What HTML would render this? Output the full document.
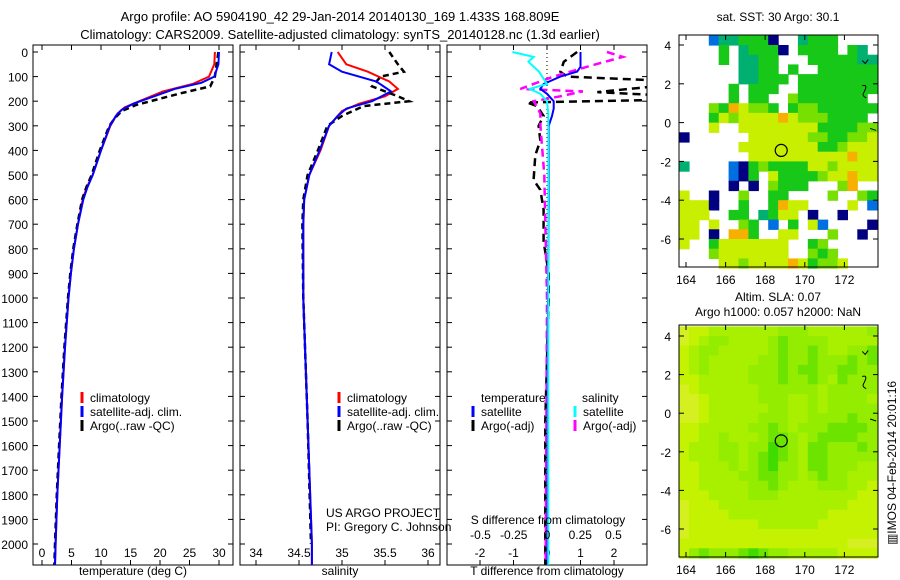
<!DOCTYPE html>
<html><head><meta charset="utf-8"><style>
body{margin:0;background:#fff;}
svg{display:block;font-family:"Liberation Sans",sans-serif;}
text{fill:#000;}
</style></head><body>
<svg id="c" width="900" height="580" viewBox="0 0 900 580"></svg>
<script>
// ---------- DATA ----------
const depthTicks=[0,100,200,300,400,500,600,700,800,900,1000,1100,1200,1300,1400,1500,1600,1700,1800,1900,2000];
const tTicks=[0,5,10,15,20,25,30];
const sTicks=[34,34.5,35,35.5,36];
const sTickLabels=["34","34.5","35","35.5","36"];
const tdTicks=[-2,-1,0,1,2];
const sdTicks=[-0.5,-0.25,0,0.25,0.5];
const sdTickLabels=["-0.5","-0.25","0","0.25","0.5"];
const lonTicks=[164,166,168,170,172];
const latTicks=[4,2,0,-2,-4,-6];
// temperature profiles [depth, value]
const tClim=[[0,29.3],[50,29.2],[100,28.3],[130,25.5],[160,20.5],[200,16.5],[225,14],[250,12.8],[300,11.6],[400,10],[500,8.6],[550,7.6],[600,6.9],[700,6.1],[800,5.4],[900,4.9],[1000,4.5],[1200,3.9],[1400,3.4],[1600,3.0],[1800,2.6],[2000,2.3],[2085,2.2]];
const tSat=[[0,30],[50,29.9],[100,29.2],[125,27],[150,22.5],[180,19],[210,15.5],[235,13.5],[260,12.5],[300,11.5],[400,10],[500,8.6],[550,7.7],[600,7],[700,6.1],[800,5.4],[900,4.9],[1000,4.5],[1200,3.9],[1400,3.4],[1600,3.0],[1800,2.6],[2000,2.3],[2085,2.2]];
const tArgo=[[0,29.9],[50,29.6],[100,29.3],[140,28.5],[165,24],[190,20],[215,16],[240,13.5],[270,12.3],[300,11.4],[400,9.8],[500,8.4],[550,7.5],[600,6.8],[700,6.0],[800,5.3],[900,4.8],[1000,4.4],[1200,3.8],[1400,3.3],[1600,2.9],[1800,2.5],[2000,2.2],[2085,2.1]];
// salinity profiles
const sClim=[[0,34.95],[50,35.05],[80,35.3],[120,35.55],[150,35.65],[180,35.5],[210,35.2],[240,35.0],[300,34.85],[400,34.75],[500,34.62],[600,34.56],[700,34.55],[1000,34.55],[1500,34.6],[2000,34.65],[2085,34.65]];
const sSat=[[0,34.88],[50,34.85],[80,35.0],[120,35.4],[160,35.57],[200,35.35],[230,35.05],[260,34.95],[300,34.85],[400,34.74],[500,34.62],[600,34.56],[700,34.55],[1000,34.55],[1500,34.6],[2000,34.65],[2085,34.65]];
const sArgo=[[0,35.55],[50,35.65],[80,35.72],[100,35.45],[140,35.35],[180,35.65],[200,35.78],[220,35.25],[260,35.0],[300,34.83],[400,34.72],[500,34.6],[600,34.55],[700,34.54],[1000,34.55],[1500,34.6],[2000,34.64]];
// difference profiles
const tdSat=[[0,1.0],[60,1.0],[80,0.9],[100,0.4],[130,-0.1],[150,-0.2],[170,0.0],[200,0.2],[230,0.2],[260,0.15],[300,0.05],[600,0.05],[1000,0.03],[2085,0.02]];
const tdArgo=[[0,0.9],[40,0.5],[80,0.4],[100,0.6],[115,3.2],[140,3.2],[163,1.5],[175,3.2],[195,3.2],[205,-0.6],[220,-0.3],[260,-0.1],[300,-0.25],[360,-0.2],[420,-0.35],[520,-0.4],[560,-0.2],[640,-0.1],[770,-0.1],[900,0.05],[1000,0.05],[1500,-0.05],[2000,-0.05],[2085,-0.05]];
const sdSat=[[0,-0.26],[20,-0.1],[40,-0.14],[80,-0.06],[130,0],[150,-0.13],[170,-0.05],[200,0],[250,0.01],[1000,0.01],[2085,0.01]];
const sdArgo=[[0,0.45],[20,0.57],[60,0.3],[100,0.05],[150,-0.2],[160,0.27],[180,0.1],[200,-0.1],[250,-0.05],[300,-0.05],[500,-0.02],[1000,0],[2085,-0.01]];
// maps: 0.5 degree cells, rows from lat 4.5 downward, cols from lon 163.65
const sstGrid=["   bttgggn  tggg    ","    g tgggn gggg gt ","    g ttgg   gggggtt","      ttgg g  gggggg","      ttggg gggggggg","     g ggg  gggggggg","     g gg  lggggggg ","   lgoyllg gllgggggg","   gylyyyyoylllgggg ","   y  yyyyyyyyggggll","n      yyyyyyllgglly","      yyyyyyyygglyyy","       yyyyyyyyyyoyy","t    bnglggggyylyyyy","     bng ygggglyyoyy","     n n lggg   lo  ","y  n  l  gg    l  lg","yyyn  g  goyy    y b","yyy  gg tgyy n  n   ","yy y  lg b g yb    n","yy n oog  yy   l  n ","y  gyyyyyyy  gl     ","   lyyyyyyy  lgl    ","    yylyyyyoyglly   "];
const slaGrid=["Yyylllllllmmmllllllm","Yylmmllllmgmmmmlllll","ylmmlllllmgmmgmllmmg","ylmlllllmmgmmgmmmgmg","ylmllllmmmgmggmmggmm","yylllllmmmgmmgmlgmmm","Yyllllllmmmmmmlmmmmm","YYylllllmmmllmlmmmml","YYyllllllmmllmlmmmmm","YYylllllmmmllmmmmgmm","yylllllmmgmlmmmggggm","yyllmlllmggmlmggggmm","ylllmmlmmGgmlggmmmgm","ylllmmlmgGgmlggmmmmm","yylllmlmgGmmlggmmmll","yyllllmmggmmlmgmmlll","yylllllmmgmlllmmmlly","yyyllllmmmllllllllyy","Yyyylllllllllllllyyy","Yyyyyllllllllllyyyyy","Yyyyyyyyllllllyyyyyy","Yyyyyyyyyyyyyyyyyyyy","yyyyyyyyyyyyyyyyyYYY","ymgmmmgGgmmlllllyyyy"];
const argoLon=168.809, argoLat=-1.433;

// ---------- HELPERS ----------
const NS="http://www.w3.org/2000/svg";
const svg=document.getElementById('c');
function el(tag,attrs,parent){const e=document.createElementNS(NS,tag);for(const k in attrs)e.setAttribute(k,attrs[k]);(parent||svg).appendChild(e);return e;}
function txt(x,y,s,anchor,size,parent){const t=el('text',{x:x,y:y,'text-anchor':anchor||'middle','font-size':size||12},parent);t.textContent=s;return t;}
const yD=d=>52+0.246*d;
const P1={l:33,r:233,t:45,b:565}, P2={l:240,r:440,t:45,b:565}, P3={l:447,r:647,t:45,b:565};
const xT=v=>42+v*5.9, xS=v=>256+(v-34)*86, xTd=v=>547+v*33.5, xSd=v=>547+v*133;

function frame(P,name){
  el('rect',{x:P.l,y:P.t,width:P.r-P.l,height:P.b-P.t,fill:'#fff',stroke:'#000','stroke-width':1});
}
function yAxisTicks(P,g){depthTicks.forEach(d=>{const y=yD(d);el('line',{x1:P.l,x2:P.l+5,y1:y,y2:y,stroke:'#000'},g);el('line',{x1:P.r,x2:P.r-5,y1:y,y2:y,stroke:'#000'},g);});}
function xTicks(P,vals,f,g,labels,ly){vals.forEach((v,i)=>{const x=f(v);el('line',{x1:x,x2:x,y1:P.b,y2:P.b-5,stroke:'#000'},g);el('line',{x1:x,x2:x,y1:P.t,y2:P.t+5,stroke:'#000'},g);if(labels)txt(x,ly,labels[i],'middle',12,g);});}
function line(data,fx,color,dash,width,name,clip){
  const pts=data.map(p=>fx(p[1]).toFixed(1)+','+yD(p[0]).toFixed(1)).join(' ');
  const a={points:pts,fill:'none',stroke:color,'stroke-width':width||2};
  if(dash)a['stroke-dasharray']=dash;
  if(clip)a['clip-path']='url(#'+clip+')';
  const p=el('polyline',a);
  
  
  return p;
}
function legendItem(x,y,color,label,name){
  const g=el('g',{});
  
  
  el('line',{x1:x,x2:x,y1:y-10,y2:y+1,stroke:color,'stroke-width':3},g);
  txt(x+8,y,label,'start',12,g);
}

// ---------- TITLES ----------
txt(340,21,"Argo profile: AO 5904190_42 29-Jan-2014 20140130_169 1.433S 168.809E",'middle',13);
txt(340,39,"Climatology: CARS2009. Satellite-adjusted climatology: synTS_20140128.nc (1.3d earlier)",'middle',13);

const defs=el('defs',{});
[['clip3',P3]].forEach(([id,P])=>{const c=el('clipPath',{id:id},defs);el('rect',{x:P.l,y:P.t,width:P.r-P.l,height:P.b-P.t},c);});

// ---------- PANEL 1 ----------
frame(P1,'temperature-panel');
const g1=el('g',{});
yAxisTicks(P1,g1);
depthTicks.forEach(d=>txt(28,yD(d)+5,String(d),'end',12,g1));
xTicks(P1,tTicks,xT,g1,tTicks.map(String),557);
txt(133,575,"temperature (deg C)",'middle',12);
line(tClim,xT,'#ff0000',null,2,'temp-climatology-line');
line(tArgo,xT,'#000',"6,4",2.5,'temp-argo-line');
line(tSat,xT,'#0000ff',null,2,'temp-satellite-line');
legendItem(82,402,'#ff0000','climatology','legend-climatology-1');
legendItem(82,416,'#0000ff','satellite-adj. clim.','legend-satellite-1');
legendItem(82,430,'#000','Argo(..raw -QC)','legend-argo-1');

// ---------- PANEL 2 ----------
frame(P2,'salinity-panel');
const g2=el('g',{});
yAxisTicks(P2,g2);
xTicks(P2,sTicks,xS,g2,sTickLabels,557);
txt(340,575,"salinity",'middle',12);
line(sClim,xS,'#ff0000',null,2,'sal-climatology-line');
line(sArgo,xS,'#000',"6,4",2.5,'sal-argo-line');
line(sSat,xS,'#0000ff',null,2,'sal-satellite-line');
legendItem(339,402,'#ff0000','climatology','legend-climatology-2');
legendItem(339,416,'#0000ff','satellite-adj. clim.','legend-satellite-2');
legendItem(339,430,'#000','Argo(..raw -QC)','legend-argo-2');

// ---------- PANEL 3 ----------
frame(P3,'difference-panel');
const g3=el('g',{});
yAxisTicks(P3,g3);
xTicks(P3,tdTicks,xTd,g3,tdTicks.map(String),557);
el('line',{x1:xTd(0),x2:xTd(0),y1:P3.t,y2:P3.b,stroke:'#000','stroke-dasharray':'1,3'},g3);
line(tdArgo,xTd,'#000',"8,5",2.5,'tdiff-argo-line','clip3');
line(sdArgo,xSd,'#ff00ff',"8,5",2.5,'sdiff-argo-line','clip3');
line(tdSat,xTd,'#0000ff',null,2,'tdiff-satellite-line','clip3');
line(sdSat,xSd,'#00ffff',null,2,'sdiff-satellite-line','clip3');
txt(481,402,"temperature",'start',12);
txt(582,402,"salinity",'start',12);
legendItem(473,416,'#0000ff','satellite','legend-tsat');
legendItem(473,430,'#000','Argo(-adj)','legend-targo');
legendItem(575,416,'#00ffff','satellite','legend-ssat');
legendItem(575,430,'#ff00ff','Argo(-adj)','legend-sargo');
const gs=el('g',{});
txt(548,524,"S difference from climatology",'middle',12,gs);
sdTicks.forEach((v,i)=>txt(xSd(v),539,sdTickLabels[i],'middle',12,gs));
txt(547,575,"T difference from climatology",'middle',12);
const pi=el('g',{});
txt(326,517,"US ARGO PROJECT",'start',12,pi);
txt(326,531,"PI: Gregory C. Johnson",'start',12,pi);

// ---------- MAPS ----------
const sstColors={g:'#18c818',t:'#00b070',y:'#c8ee00',l:'#78e000',o:'#f8b000',n:'#000080',b:'#0070e0'};
const slaColors={Y:'#d4f020',y:'#c4f200',l:'#a8f000',m:'#94ec00',g:'#6ce400',G:'#40dc00'};
function map(M,grid,colors,name){
  const lonX=v=>M.x0+(v-M.lon0)*M.sx, latY=v=>M.y0-(v-M.lat0)*M.sy;
  const g=el('g',{});
  el('rect',{x:M.l,y:M.t,width:M.r-M.l,height:M.b-M.t,fill:'#fff'},g);
  grid.forEach((row,ri)=>{for(let ci=0;ci<row.length;ci++){const c=colors[row[ci]];if(!c)continue;
    const la=4.5-ri*0.5, lo=163.65+ci*0.5;
    const x=lonX(lo), y=latY(la);
    const cell=el('rect',{x:x.toFixed(1),y:y.toFixed(1),width:(M.sx*0.5+0.6).toFixed(1),height:(M.sy*0.5+0.6).toFixed(1),fill:c},g);
    
  }});
  el('rect',{x:M.l,y:M.t,width:M.r-M.l,height:M.b-M.t,fill:'none',stroke:'#000'},g);
  lonTicks.forEach(v=>{const x=lonX(v);el('line',{x1:x,x2:x,y1:M.b,y2:M.b-5,stroke:'#000'},g);el('line',{x1:x,x2:x,y1:M.t,y2:M.t+5,stroke:'#000'},g);txt(x,M.b+17,String(v),'middle',12,g);});
  latTicks.forEach(v=>{const y=latY(v);el('line',{x1:M.l,x2:M.l+5,y1:y,y2:y,stroke:'#000'},g);el('line',{x1:M.r,x2:M.r-5,y1:y,y2:y,stroke:'#000'},g);txt(M.l-8,y+5,String(v),'end',12,g);});
  el('circle',{cx:lonX(argoLon),cy:latY(argoLat),r:6,fill:'none',stroke:'#000','stroke-width':1.2},g);
  el('path',{d:`M${lonX(172.9)} ${latY(3.2)} l3 3 l3 -4 M${lonX(172.9)} ${latY(1.9)} q6 -2 2 6 q-3 4 2 6 M${lonX(173.3)} ${latY(-0.3)} l6 2`,fill:'none',stroke:'#000','stroke-width':1},g);
}
txt(778,21,"sat. SST: 30 Argo: 30.1",'middle',12);
map({l:679,r:878,t:35,b:267,x0:686,lon0:164,sx:19.8,y0:45,lat0:4,sy:19.4},sstGrid,sstColors,'sst-map');
txt(778,301,"Altim. SLA: 0.07",'middle',12);
txt(778,316,"Argo h1000: 0.057 h2000: NaN",'middle',12);
map({l:679,r:878,t:325,b:557,x0:686,lon0:164,sx:19.8,y0:336,lat0:4,sy:19.3},slaGrid,slaColors,'sla-map');
const ts=txt(0,0,"\u25A5IMOS 04-Feb-2014 20:01:16",'middle',12);
ts.setAttribute('transform','translate(896,463) rotate(-90)');

</script>
</body></html>
